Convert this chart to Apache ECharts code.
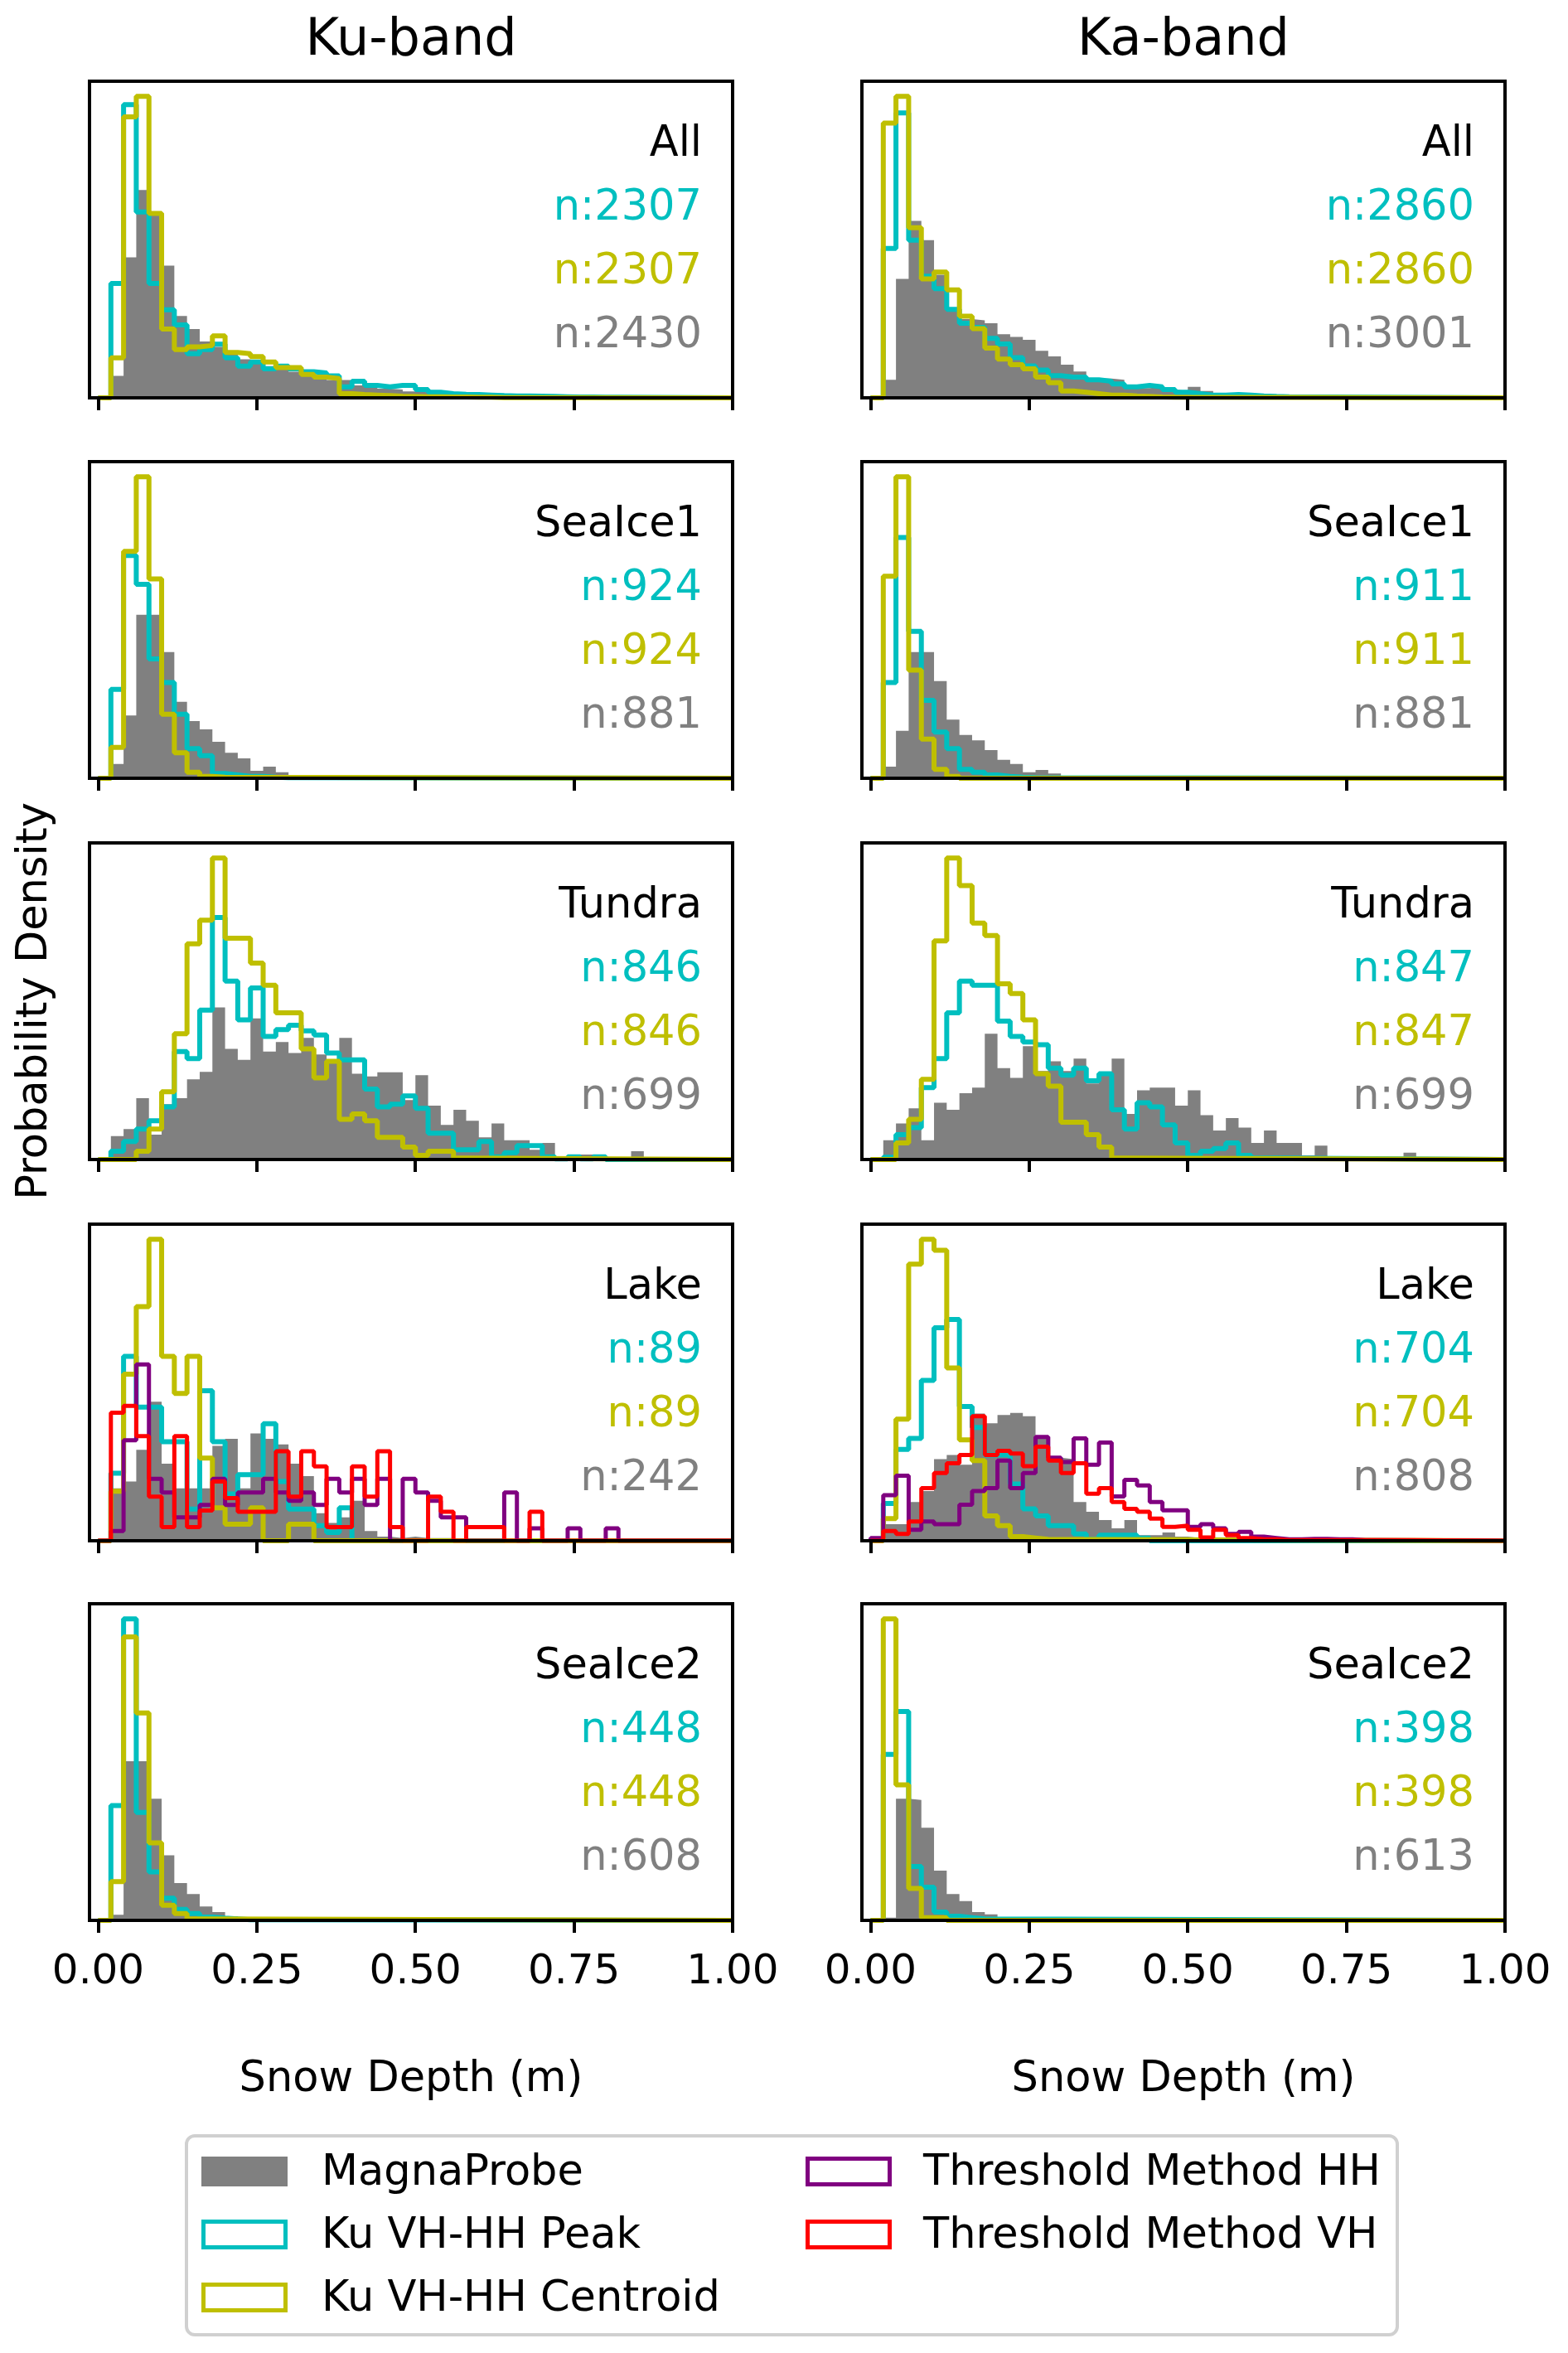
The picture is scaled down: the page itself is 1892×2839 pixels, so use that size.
<!DOCTYPE html>
<html>
<head>
<meta charset="utf-8">
<script src="https://cdn.jsdelivr.net/npm/echarts@6/dist/echarts.min.js"></script>
<style>
html, body { margin: 0; padding: 0; background: #fff; }
#myChart { width: 1892px; height: 2839px; }
</style>
</head>
<body>
<div id="myChart"></div>
<script>
// bins are 0.02 m wide starting at 0; values are probability density
var binWidth = 0.02;
var xTicks = [0, 0.25, 0.5, 0.75, 1.0];
var bandNames = ['Ku-band', 'Ka-band'];
var siteNames = ['All', 'SeaIce1', 'Tundra', 'Lake', 'SeaIce2'];

var kuPeakN = [2307, 924, 846, 89, 448];
var kuCentroidN = [2307, 924, 846, 89, 448];
var kuProbeN = [2430, 881, 699, 242, 608];
var kaPeakN = [2860, 911, 847, 704, 398];
var kaCentroidN = [2860, 911, 847, 704, 398];
var kaProbeN = [3001, 881, 699, 808, 613];

// Ku-band
var kuAllProbe = [0, 0.80, 5.10, 7.55, 6.70, 4.80, 2.97, 2.50, 2.05, 1.85, 1.60, 1.40, 1.25, 1.15, 1.10, 0.95, 0.85, 0.75, 0.65, 0.65, 0.45, 0.40, 0.33, 0.30, 0.23, 0.20, 0.17, 0.13, 0.10, 0.09, 0.08, 0.06, 0.05, 0.04, 0.03, 0.03, 0.02, 0.02, 0.01, 0.01];
var kuAllPeak = [0, 4.15, 10.65, 6.75, 4.15, 3.20, 2.65, 1.60, 1.75, 1.95, 1.45, 1.15, 1.30, 1.05, 1.15, 1.05, 0.95, 0.90, 0.80, 0.40, 0.60, 0.45, 0.40, 0.45, 0.45, 0.30, 0.20, 0.15, 0.13, 0.12, 0.10, 0.08, 0.07, 0.07, 0.06, 0.05, 0.04, 0.03, 0.03, 0.02, 0.02];
var kuAllCentroid = [0, 1.45, 10.20, 10.95, 6.70, 2.50, 1.75, 1.85, 1.90, 2.25, 1.65, 1.60, 1.50, 1.30, 1.10, 1.10, 0.85, 0.75, 0.70, 0.15, 0.12, 0.10, 0.08, 0.06, 0.05, 0.04, 0.04, 0.03, 0.03, 0.02, 0.02, 0.01, 0.01];

var kuSea1Probe = [0, 0.52, 2.27, 5.92, 5.92, 4.57, 2.77, 2.07, 1.77, 1.32, 0.92, 0.72, 0.27, 0.42, 0.22];
var kuSea1Peak = [0, 3.22, 8.07, 7.02, 4.32, 3.47, 2.32, 1.07, 0.82, 0.17, 0.12, 0.07, 0.07, 0.04, 0.02];
var kuSea1Centroid = [0, 1.12, 8.22, 10.92, 7.22, 2.32, 0.92, 0.22, 0.07, 0.04];

var kuTundraProbe = [0, 0.85, 1.10, 2.22, 0.90, 2.00, 2.22, 2.90, 3.17, 5.50, 4.00, 3.60, 5.10, 3.90, 4.25, 3.85, 4.40, 3.80, 3.60, 4.40, 3.10, 3.00, 3.15, 3.15, 2.15, 3.05, 1.95, 1.25, 1.80, 1.40, 0.80, 1.30, 0.70, 0.70, 0.35, 0.60, 0.10, 0.05, 0.18, 0.18, 0.02, 0.05, 0.30, 0.02, 0.05, 0.05, 0.02, 0.05];
var kuTundraPeak = [0, 0.30, 0.65, 1.10, 1.40, 1.90, 3.90, 3.65, 5.40, 8.75, 6.45, 5.05, 6.20, 4.45, 4.70, 4.85, 4.65, 4.50, 3.85, 3.60, 3.60, 2.55, 1.90, 2.00, 2.30, 1.85, 0.95, 0.95, 0.35, 0.35, 0.65, 0.10, 0.25, 0.50, 0.50, 0.10, 0.02, 0.10, 0.02, 0.10];
var kuTundraCentroid = [0, 0, 0, 0.30, 1.10, 2.45, 4.55, 7.80, 8.65, 10.90, 8.00, 8.00, 7.10, 6.30, 5.30, 5.30, 4.00, 2.95, 3.55, 1.45, 1.65, 1.40, 0.80, 0.80, 0.45, 0.15, 0.30, 0.30, 0.05];

var kuLakeProbe = [0, 1.90, 2.15, 3.30, 5.05, 2.80, 1.90, 1.90, 1.90, 3.45, 3.70, 1.90, 3.90, 3.70, 3.50, 2.80, 2.35, 1.00, 0.65, 0.85, 1.45, 0.35, 0.15, 0.10, 0.15, 0.10, 0.10, 0.10];
var kuLakePeak = [0, 2.45, 6.70, 4.85, 4.85, 3.60, 3.60, 1.15, 5.45, 3.60, 1.70, 2.40, 2.40, 4.25, 2.15, 1.15, 1.15, 0.55, 0.30, 1.20];
var kuLakeCentroid = [0, 1.80, 6.05, 8.50, 10.95, 6.70, 5.35, 6.70, 3.00, 1.20, 0.60, 0.60, 1.20, 0, 0, 0.60, 0.60];
var kuLakeHH = [0, 0.35, 3.65, 6.40, 2.25, 1.75, 0.85, 0.85, 1.30, 2.25, 1.30, 1.75, 1.75, 2.25, 1.75, 1.45, 1.75, 1.30, 2.25, 1.75, 2.25, 1.30, 2.25, 0, 2.25, 1.75, 1.45, 0.85, 0.85, 0, 0, 0, 1.75, 0, 0.45, 0, 0, 0.45, 0, 0, 0.45];
var kuLakeVH = [0, 4.65, 4.90, 3.80, 1.60, 0.50, 3.80, 0.50, 1.10, 2.15, 1.55, 1.05, 1.05, 1.05, 3.25, 1.60, 3.25, 2.70, 0.50, 0.50, 2.70, 1.60, 3.25, 0.50, 0, 0, 1.60, 1.05, 0, 0.50, 0.50, 0.50, 0, 0, 1.05];

var kuSea2Probe = [0, 0.20, 5.75, 5.75, 4.40, 2.35, 1.35, 0.95, 0.50, 0.30, 0.15, 0.05];
var kuSea2Peak = [0, 4.15, 10.90, 3.90, 1.75, 0.80, 0.40, 0.25, 0.12, 0.08, 0.05, 0.02];
var kuSea2Centroid = [0, 1.40, 10.25, 7.50, 2.80, 0.55, 0.25, 0.05];

// Ka-band
var kaAllProbe = [0, 0.65, 4.30, 6.40, 5.70, 4.45, 3.20, 2.85, 2.80, 2.70, 2.30, 2.20, 2.10, 1.70, 1.50, 1.20, 0.95, 0.70, 0.70, 0.65, 0.45, 0.35, 0.40, 0.30, 0.25, 0.40, 0.25, 0.15, 0.17, 0.13, 0.10, 0.05, 0.07];
var kaAllPeak = [0, 5.40, 10.30, 5.70, 4.40, 3.95, 3.20, 2.70, 2.55, 2.15, 1.95, 1.45, 1.15, 1.00, 0.80, 0.75, 0.75, 0.65, 0.60, 0.50, 0.40, 0.45, 0.40, 0.30, 0.20, 0.15, 0.10, 0.10, 0.12, 0.10, 0.07, 0.05, 0.04];
var kaAllCentroid = [0, 9.93, 10.90, 6.15, 4.30, 4.55, 3.90, 2.95, 2.50, 1.80, 1.40, 1.20, 1.05, 0.75, 0.55, 0.25, 0.20, 0.15, 0.10, 0.10, 0.07, 0.05, 0.03, 0.02];

var kaSea1Probe = [0, 0.42, 1.72, 4.57, 4.57, 3.52, 2.12, 1.57, 1.37, 1.02, 0.67, 0.52, 0.22, 0.30, 0.17];
var kaSea1Peak = [0, 3.47, 8.72, 5.32, 2.82, 1.67, 1.07, 0.32, 0.22, 0.12, 0.07, 0.04, 0.02];
var kaSea1Centroid = [0, 7.32, 10.92, 3.92, 1.42, 0.32, 0.07];

var kaTundraProbe = [0, 0.70, 1.30, 1.85, 0.70, 2.05, 1.80, 2.40, 2.60, 4.55, 3.30, 2.95, 4.10, 3.20, 3.55, 3.20, 3.65, 2.75, 3.10, 3.65, 1.65, 2.50, 2.60, 2.60, 1.95, 2.50, 1.60, 1.05, 1.50, 1.15, 0.60, 1.05, 0.60, 0.60, 0.15, 0.50, 0, 0, 0.12, 0.12, 0, 0, 0.25];
var kaTundraPeak = [0, 0.08, 0.90, 1.15, 2.60, 3.65, 5.30, 6.45, 6.30, 6.30, 5.00, 4.45, 4.25, 4.15, 3.30, 3.05, 3.30, 2.85, 3.10, 1.80, 1.10, 2.05, 1.90, 1.25, 0.60, 0.15, 0.30, 0.40, 0.60, 0.15, 0.05, 0.05];
var kaTundraCentroid = [0, 0, 0.60, 1.45, 2.90, 7.90, 10.90, 9.90, 8.55, 8.10, 6.35, 6.00, 5.05, 3.10, 2.65, 1.35, 1.35, 0.90, 0.45, 0.05];

var kaLakeProbe = [0, 0.60, 0.60, 1.40, 1.80, 2.95, 3.10, 2.75, 4.60, 4.25, 4.55, 4.62, 4.50, 3.80, 3.00, 2.95, 1.40, 1.05, 0.75, 0.45, 0.75, 0.20, 0.20, 0.30, 0.15, 0.10, 0.05];
var kaLakePeak = [0, 1.35, 3.30, 3.70, 5.80, 7.70, 8.00, 4.85, 4.10, 3.10, 3.10, 2.05, 1.15, 0.90, 0.55, 0.55, 0.25, 0.05, 0.20, 0.20, 0.20, 0.10];
var kaLakeCentroid = [0, 0.80, 4.40, 10.00, 10.90, 10.50, 6.25, 3.65, 2.90, 0.90, 0.55, 0.15, 0.10, 0.05];
var kaLakeHH = [0.10, 1.65, 2.35, 0.40, 0.70, 0.60, 0.60, 1.30, 1.80, 1.90, 2.90, 1.90, 2.45, 3.75, 3.00, 2.85, 3.70, 2.75, 3.55, 1.60, 2.20, 2.00, 1.40, 1.10, 1.10, 0.50, 0.60, 0.45, 0.25, 0.32, 0.15, 0.10, 0.05, 0.05, 0.07, 0.07, 0.05, 0.05, 0.02, 0.02];
var kaLakeVH = [0, 0.35, 0.25, 0.70, 1.90, 2.45, 2.80, 3.10, 4.50, 3.10, 3.25, 3.15, 2.70, 3.40, 2.90, 2.45, 2.80, 1.70, 1.90, 1.40, 1.15, 1.05, 0.80, 0.50, 0.55, 0.40, 0.12, 0.40, 0.20, 0.10, 0.05, 0.05, 0.02, 0.02, 0.02, 0.02, 0.02, 0.02, 0.02, 0.02, 0.02, 0.02, 0.02];

var kaSea2Probe = [0, 0.10, 4.40, 4.35, 3.35, 1.80, 0.95, 0.70, 0.30, 0.22, 0.05];
var kaSea2Peak = [0, 6.00, 7.55, 1.95, 1.20, 0.30, 0.15, 0.10, 0.05];
var kaSea2Centroid = [0, 10.90, 4.90, 1.15, 0.10, 0.10];

var legendNames = ['MagnaProbe', 'Ku VH-HH Peak', 'Ku VH-HH Centroid', 'Threshold Method HH', 'Threshold Method VH'];
var legendColors = ['#808080', '#00bfbf', '#bfbf00', '#800080', '#ff0000'];

var panels = [
    [
        {probe: kuAllProbe, peak: kuAllPeak, centroid: kuAllCentroid},
        {probe: kuSea1Probe, peak: kuSea1Peak, centroid: kuSea1Centroid},
        {probe: kuTundraProbe, peak: kuTundraPeak, centroid: kuTundraCentroid},
        {probe: kuLakeProbe, peak: kuLakePeak, centroid: kuLakeCentroid, hh: kuLakeHH, vh: kuLakeVH},
        {probe: kuSea2Probe, peak: kuSea2Peak, centroid: kuSea2Centroid}
    ],
    [
        {probe: kaAllProbe, peak: kaAllPeak, centroid: kaAllCentroid},
        {probe: kaSea1Probe, peak: kaSea1Peak, centroid: kaSea1Centroid},
        {probe: kaTundraProbe, peak: kaTundraPeak, centroid: kaTundraCentroid},
        {probe: kaLakeProbe, peak: kaLakePeak, centroid: kaLakeCentroid, hh: kaLakeHH, vh: kaLakeVH},
        {probe: kaSea2Probe, peak: kaSea2Peak, centroid: kaSea2Centroid}
    ]
];
var nLabels = [[kuPeakN, kuCentroidN, kuProbeN], [kaPeakN, kaCentroidN, kaProbeN]];

var FONT = '"DejaVu Sans", sans-serif';
var colLeft = [108, 1040];
var panelW = 776;
var rowTop = [98, 557, 1017, 1477, 1935];
var panelH = 382;

// step outline of a histogram, ending on the baseline at 1.0
function stepData(h){
    var pts = [[0, 0]];
    for(var i=0; i<h.length; i++){
        pts.push([+(i * binWidth).toFixed(2), h[i]]);
    }
    var end = +(h.length * binWidth).toFixed(2);
    pts.push([end, 0]);
    if(end < 1){
        pts.push([1, 0]);
    }
    return pts;
}

function text(str, x, y, size, color, align, rotation){
    return {
        type: 'text', x: x, y: y, rotation: rotation || 0, z: 20,
        style: {
            text: str, fill: color, font: size + 'px ' + FONT,
            align: align, verticalAlign: 'middle',
            textAlign: align, textVerticalAlign: 'middle'
        }
    };
}

var grids = [], xAxes = [], yAxes = [], series = [], graphics = [];

for(var c=0; c<2; c++){
    graphics.push(text(bandNames[c], colLeft[c] + panelW / 2, 50, 62, '#000', 'center'));
    graphics.push(text('Snow Depth (m)', colLeft[c] + panelW / 2, 2510, 51, '#000', 'center'));
    for(var r=0; r<5; r++){
        var g = c * 5 + r;
        var p = panels[c][r];
        var all = p.probe.concat(p.peak, p.centroid, p.hh || [], p.vh || []);
        var ymax = Math.max.apply(null, all) * 1.05;

        grids.push({left: colLeft[c], top: rowTop[r], width: panelW, height: panelH,
            show: true, borderColor: '#000', borderWidth: 4, backgroundColor: 'transparent', z: 10});
        xAxes.push({
            gridIndex: g, type: 'value', min: -0.0137, max: 1, z: 10,
            axisLine: {show: true, onZero: false, lineStyle: {color: '#000', width: 4}},
            axisTick: {show: true, length: 15, customValues: xTicks, lineStyle: {color: '#000', width: 4}},
            axisLabel: {show: r == 4, customValues: xTicks, margin: 38, color: '#000',
                fontSize: 50, fontFamily: FONT,
                formatter: function(v){ return v.toFixed(2); }},
            splitLine: {show: false}
        });
        yAxes.push({gridIndex: g, type: 'value', min: 0, max: ymax, show: false});

        series.push({
            type: 'line', name: legendNames[0], xAxisIndex: g, yAxisIndex: g,
            data: stepData(p.probe), step: 'end', symbol: 'none', silent: true,
            lineStyle: {width: 0, opacity: 0},
            itemStyle: {color: legendColors[0]},
            areaStyle: {color: legendColors[0], opacity: 1}, z: 2
        });
        var keys = ['peak', 'centroid', 'hh', 'vh'];
        for(var k=0; k<keys.length; k++){
            if(!p[keys[k]]){ continue; }
            series.push({
                type: 'line', name: legendNames[k + 1], xAxisIndex: g, yAxisIndex: g,
                data: stepData(p[keys[k]]), step: 'end', symbol: 'none', silent: true,
                lineStyle: {color: legendColors[k + 1], width: k < 2 ? 6 : 5},
                itemStyle: {color: legendColors[k + 1]}, z: 3 + k
            });
        }

        var rx = colLeft[c] + panelW - 37;
        graphics.push(text(siteNames[r], rx, rowTop[r] + 77, 51, '#000', 'right'));
        graphics.push(text('n:' + nLabels[c][0][r], rx, rowTop[r] + 154, 51, legendColors[1], 'right'));
        graphics.push(text('n:' + nLabels[c][1][r], rx, rowTop[r] + 231, 51, legendColors[2], 'right'));
        graphics.push(text('n:' + nLabels[c][2][r], rx, rowTop[r] + 308, 51, legendColors[0], 'right'));
    }
}

graphics.push(text('Probability Density', 43, 1208, 51, '#000', 'center', Math.PI / 2));

// legend box
graphics.push({type: 'rect', z: 20, shape: {x: 225, y: 2577, width: 1461, height: 240, r: 10},
    style: {fill: '#fff', stroke: '#d0d0d0', lineWidth: 4}});
var legendRowY = [2620, 2696, 2772];
var legendPatchX = [243, 972];
var legendTextX = [388, 1114];
for(var i=0; i<legendNames.length; i++){
    var col = i < 3 ? 0 : 1;
    var row = i < 3 ? i : i - 3;
    var cy = legendRowY[row];
    if(i == 0){
        graphics.push({type: 'rect', z: 21, shape: {x: legendPatchX[col], y: cy - 18, width: 104, height: 36},
            style: {fill: legendColors[i]}});
    }else{
        graphics.push({type: 'rect', z: 21, shape: {x: legendPatchX[col] + 2.5, y: cy - 15.5, width: 99, height: 31},
            style: {fill: 'none', stroke: legendColors[i], lineWidth: 5}});
    }
    graphics.push(text(legendNames[i], legendTextX[col], cy + 3, 51, '#000', 'left'));
}

var myChart = echarts.init(document.getElementById('myChart'));
myChart.setOption({
    animation: false,
    backgroundColor: '#fff',
    textStyle: {fontFamily: FONT},
    grid: grids,
    xAxis: xAxes,
    yAxis: yAxes,
    series: series,
    graphic: graphics
});
</script>
</body>
</html>
